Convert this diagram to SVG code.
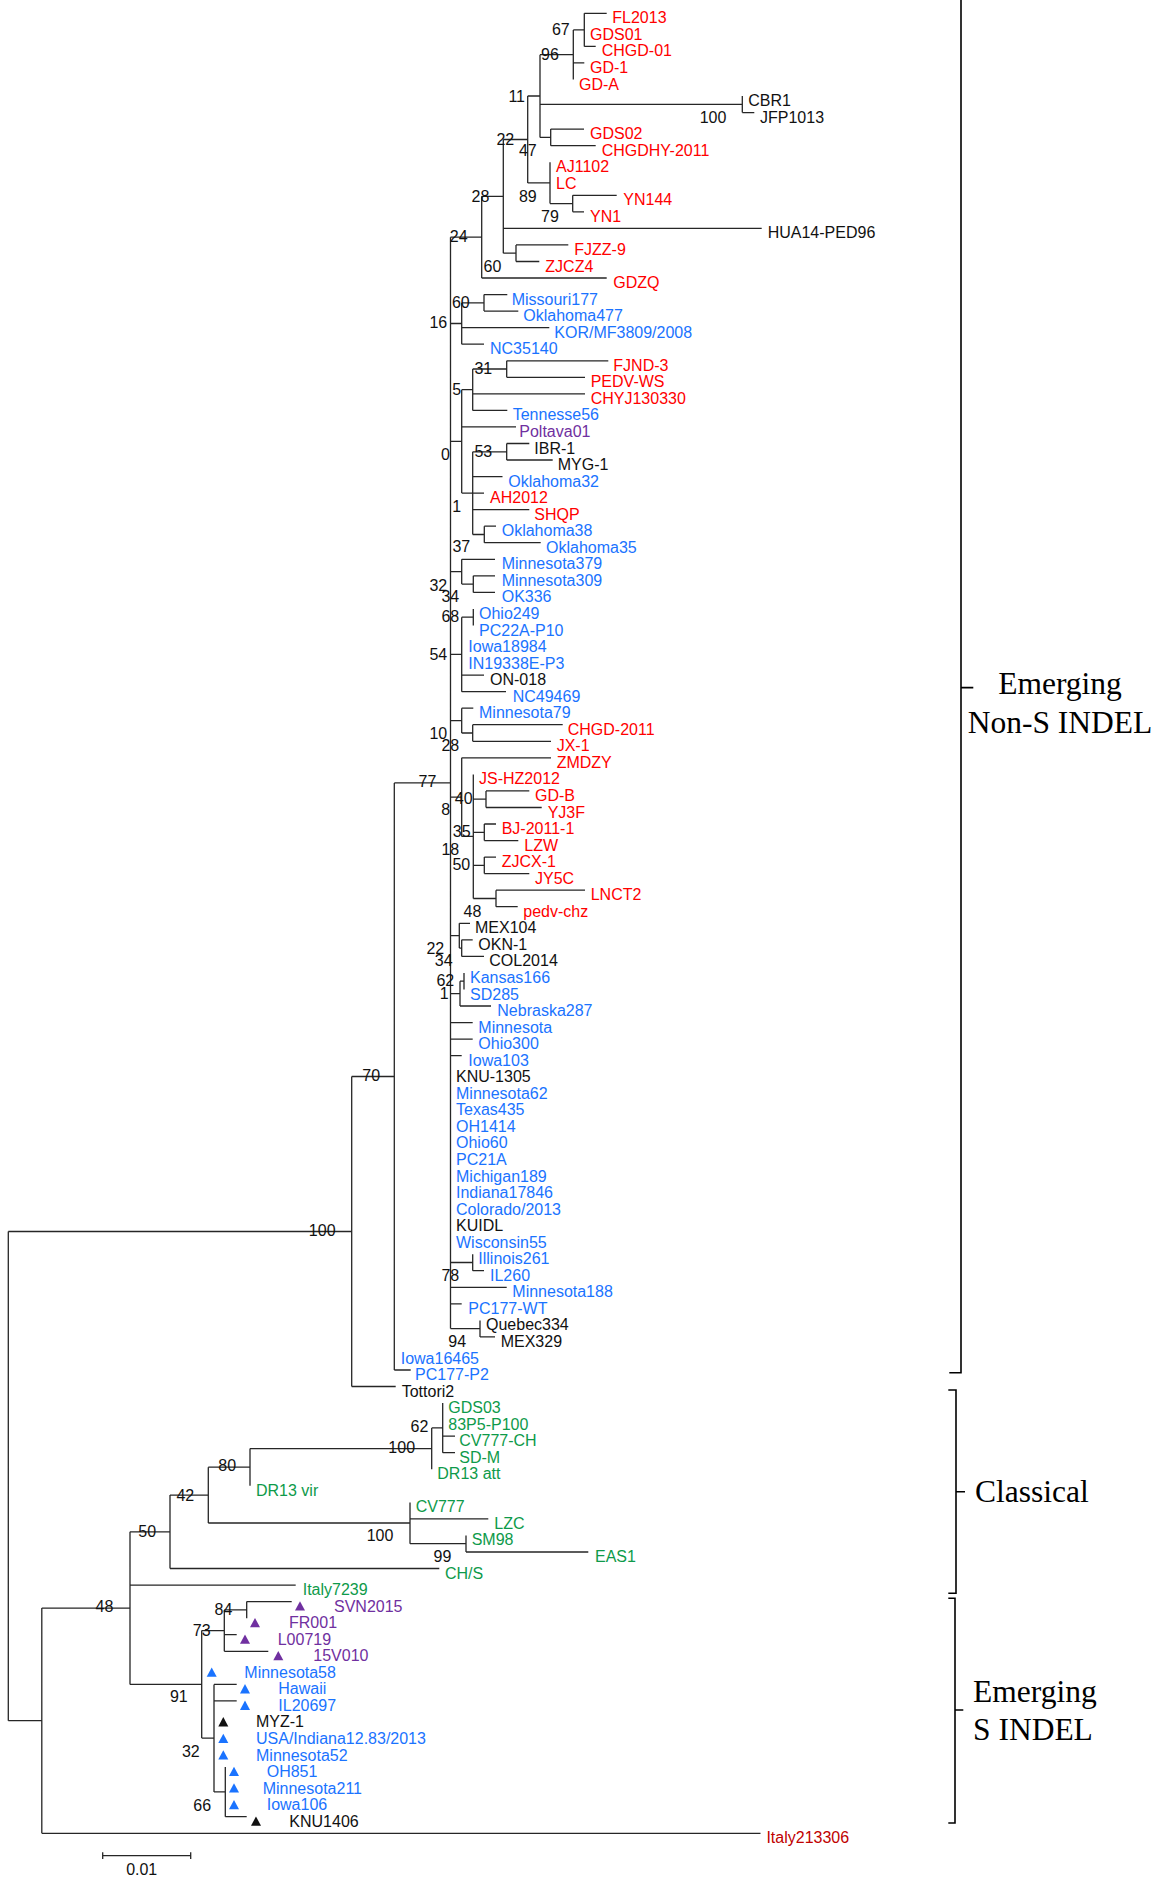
<svg xmlns="http://www.w3.org/2000/svg" xmlns:xlink="http://www.w3.org/1999/xlink" width="1158" height="1877" viewBox="0 0 1158 1877">
<style>
text{font-family:"Liberation Sans",Arial,sans-serif;font-size:16px}
.r{fill:#ff0000}.b{fill:#1a73ff}.k{fill:#111111}.g{fill:#0e9a4a}.p{fill:#7030a0}.d{fill:#c00000}
.bs text{fill:#111111;text-anchor:middle}
.cl text{font-family:"Liberation Serif","Times New Roman",serif;font-size:31.5px;fill:#000}
.br{fill:none;stroke:#262626;stroke-width:1.3}
.bk{fill:none;stroke:#000;stroke-width:1.6}
</style>
<defs><path id="tri" d="M0,-0.3 L5,9 L-5,9 Z"/></defs>
<rect width="1158" height="1877" fill="#fff"/>
<g id="connectors">
<path class="br" d="M584.3,13.3 V46.4 M584.3,13.3 H606.7 M584.3,46.4 H595.7
M573.3,29.9 V79.5 M573.3,29.9 H584.3 M573.3,62.9 H584.3
M742.3,96 V112.6 M742.3,112.6 H754.3
M550.7,129.1 V145.7 M550.7,129.1 H584 M550.7,145.7 H595.7
M540,54.7 V137.4 M540,54.7 H573.3 M540,104.3 H742.3 M540,137.4 H550.7
M572.7,195.3 V211.8 M572.7,195.3 H616.7 M572.7,211.8 H584
M550,162.2 V203.6 M550,203.6 H572.7
M527.7,96 V182.9 M527.7,96 H540 M527.7,182.9 H550
M516,244.9 V261.5 M516,244.9 H568.3 M516,261.5 H539.3
M503.3,139.5 V253.2 M503.3,139.5 H527.7 M503.3,228.4 H761.7 M503.3,253.2 H516
M481.7,196.3 V278 M481.7,196.3 H503.3 M481.7,278 H606.7
M450.5,237.2 H481.7
M484,294.6 V311.1 M484,294.6 H507.3 M484,311.1 H518.3
M461.7,302.9 V344.2 M461.7,302.9 H484 M461.7,327.7 H549.3 M461.7,344.2 H484
M450.5,323.5 H461.7
M506.7,360.8 V377.3 M506.7,360.8 H608.3 M506.7,377.3 H585
M472.7,369 V410.4 M472.7,369 H506.7 M472.7,393.8 H585 M472.7,410.4 H507.3
M506.7,443.5 V460 M506.7,443.5 H529.3 M506.7,460 H552.7
M484.3,526.2 V542.7 M484.3,526.2 H496 M484.3,542.7 H540.7
M472.7,451.8 V534.5 M472.7,451.8 H506.7 M472.7,476.6 H502.5 M472.7,493.1 H484 M472.7,509.7 H529.3 M472.7,534.5 H484.3
M461.7,389.7 V493.1 M461.7,389.7 H472.7 M461.7,426.9 H516 M461.7,493.1 H472.7
M450.5,441.4 H461.7
M473.3,575.8 V592.4 M473.3,575.8 H495 M473.3,592.4 H495
M461.7,559.3 V584.1 M461.7,559.3 H495 M461.7,584.1 H473.3
M450.5,571.7 H461.7
M473.3,608.9 V625.5
M461.7,617.2 V691.7 M461.7,617.2 H473.3 M461.7,675.1 H484 M461.7,691.7 H506
M450.5,654.4 H461.7
M472.7,724.7 V741.3 M472.7,724.7 H562.7 M472.7,741.3 H551
M461.7,708.2 V733 M461.7,708.2 H473.3 M461.7,733 H472.7
M450.5,720.6 H461.7
M486,790.9 V807.5 M486,790.9 H529.3 M486,807.5 H541.7
M484.3,824 V840.6 M484.3,824 H496 M484.3,840.6 H518.3
M484.3,857.1 V873.6 M484.3,857.1 H496 M484.3,873.6 H529.3
M496,890.2 V906.7 M496,890.2 H585 M496,906.7 H517.7
M473.3,774.4 V898.5 M473.3,799.2 H486 M473.3,832.3 H484.3 M473.3,865.4 H484.3 M473.3,898.5 H496
M461.7,757.8 V836.4 M461.7,757.8 H551 M461.7,836.4 H473.3
M450.5,797.1 H461.7
M461.7,939.8 V956.4 M461.7,939.8 H472.7 M461.7,956.4 H484
M459.3,923.3 V948.1 M459.3,923.3 H470 M459.3,948.1 H461.7
M450.5,935.7 H459.3
M464,972.9 V989.5
M460,981.2 V1006 M460,981.2 H464 M460,1006 H491
M450.5,993.6 H460
M450.5,1022.6 H472.7 M450.5,1039.1 H472.7 M450.5,1055.6 H461.7
M472.7,1254.2 V1270.7 M472.7,1270.7 H484 M450.5,1262.5 H472.7
M450.5,1287.3 H506.7 M450.5,1303.8 H461.7
M480,1320.4 V1336.9 M480,1336.9 H495 M450.5,1328.6 H480
M450.5,237.2 V1328.6
M394.3,782.9 V1370 M394.3,782.9 H450.5 M394.3,1370 H410.7
M351.7,1076.5 V1386.5 M351.7,1076.5 H394.3 M351.7,1386.5 H395.7
M8.3,1231.5 V1720.7 M8.3,1231.5 H351.7 M8.3,1720.7 H41.8
M442.7,1403.1 V1452.7 M442.7,1436.2 H455 M442.7,1452.7 H455
M431.7,1427.9 V1469.3 M431.7,1427.9 H442.7
M250,1448.6 V1485.8 M250,1448.6 H431.7
M466,1535.4 V1552 M466,1552 H588.3
M410,1502.4 V1543.7 M410,1518.9 H488.3 M410,1543.7 H466
M208.3,1467.2 V1523 M208.3,1467.2 H250 M208.3,1523 H410
M170,1495.1 V1568.5 M170,1495.1 H208.3 M170,1568.5 H439.3
M246.7,1601.6 V1618.2 M246.7,1601.6 H291.7
M224.3,1609.9 V1651.3 M224.3,1609.9 H246.7 M224.3,1634.7 H236.7 M224.3,1651.3 H268.3
M225.3,1767.1 V1816.7 M225.3,1816.7 H246.7
M214,1684.4 V1791.9 M214,1684.4 H236.7 M214,1700.9 H236.7 M214,1791.9 H225.3
M201.7,1630.6 V1738.1 M201.7,1630.6 H224.3 M201.7,1738.1 H214
M130,1531.8 V1684.4 M130,1531.8 H170 M130,1585.1 H295.7 M130,1684.4 H201.7
M41.8,1608.1 V1833.3 M41.8,1608.1 H130 M41.8,1833.3 H760.5"/>
</g>
<g id="bootstrap" class="bs">
<text x="560.8" y="35">67</text><text x="550" y="60">96</text><text x="516.7" y="101.7">11</text><text x="713" y="123">100</text>
<text x="505.3" y="144.7">22</text><text x="527.8" y="156.4">47</text><text x="527.8" y="201.7">89</text><text x="550" y="222.4">79</text>
<text x="480.5" y="201.7">28</text><text x="458.7" y="242.4">24</text><text x="492.5" y="272.4">60</text>
<text x="460.8" y="308.4">60</text><text x="438.3" y="328.4">16</text><text x="483.3" y="374">31</text><text x="456.7" y="395">5</text>
<text x="445.5" y="459.7">0</text><text x="483.3" y="457.4">53</text><text x="456.7" y="511.7">1</text><text x="461.3" y="552.4">37</text>
<text x="438.3" y="590.7">32</text><text x="450.3" y="602.4">34</text><text x="450.3" y="622.4">68</text><text x="438.3" y="660">54</text>
<text x="438.3" y="739">10</text><text x="450.3" y="750.7">28</text><text x="427.5" y="787.4">77</text><text x="463.7" y="804">40</text>
<text x="445.8" y="815">8</text><text x="461.7" y="837.4">35</text><text x="450.3" y="855">18</text><text x="461.3" y="870">50</text>
<text x="472.5" y="917.4">48</text><text x="435.3" y="954">22</text><text x="443.7" y="966.4">34</text><text x="445.3" y="985.7">62</text>
<text x="444.2" y="999">1</text><text x="450.3" y="1280.7">78</text><text x="457.2" y="1346.7">94</text>
<text x="322.2" y="1236.4">100</text><text x="371.2" y="1081.1">70</text><text x="419.5" y="1432.4">62</text><text x="401.7" y="1453.4">100</text>
<text x="227.2" y="1471.4">80</text><text x="185.3" y="1500.7">42</text><text x="380" y="1541.4">100</text><text x="442.5" y="1562.4">99</text>
<text x="147.2" y="1536.7">50</text><text x="223.5" y="1615">84</text><text x="201.7" y="1635.7">73</text><text x="104.5" y="1612.4">48</text>
<text x="178.8" y="1702.4">91</text><text x="190.8" y="1756.7">32</text><text x="202.2" y="1810.7">66</text>
</g>
<g id="n1"><text class="r" x="612.3" y="23.3">FL2013</text></g>
<g id="n2"><text class="r" x="590" y="39.9">GDS01</text></g>
<g id="n3"><text class="r" x="601.7" y="56.4">CHGD-01</text></g>
<g id="n4"><text class="r" x="590" y="72.9">GD-1</text></g>
<g id="n5"><text class="r" x="579" y="89.5">GD-A</text></g>
<g id="n6"><text class="k" x="748.3" y="106">CBR1</text></g>
<g id="n7"><text class="k" x="760" y="122.6">JFP1013</text></g>
<g id="n8"><text class="r" x="590" y="139.1">GDS02</text></g>
<g id="n9"><text class="r" x="601.7" y="155.7">CHGDHY-2011</text></g>
<g id="n10"><text class="r" x="556" y="172.2">AJ1102</text></g>
<g id="n11"><text class="r" x="556" y="188.8">LC</text></g>
<g id="n12"><text class="r" x="623.3" y="205.3">YN144</text></g>
<g id="n13"><text class="r" x="590" y="221.8">YN1</text></g>
<g id="n14"><text class="k" x="767.7" y="238.4">HUA14-PED96</text></g>
<g id="n15"><text class="r" x="574.3" y="254.9">FJZZ-9</text></g>
<g id="n16"><text class="r" x="545.3" y="271.5">ZJCZ4</text></g>
<g id="n17"><text class="r" x="613.3" y="288">GDZQ</text></g>
<g id="n18"><text class="b" x="511.7" y="304.6">Missouri177</text></g>
<g id="n19"><text class="b" x="523.3" y="321.1">Oklahoma477</text></g>
<g id="n20"><text class="b" x="554.3" y="337.7">KOR/MF3809/2008</text></g>
<g id="n21"><text class="b" x="490" y="354.2">NC35140</text></g>
<g id="n22"><text class="r" x="613.3" y="370.8">FJND-3</text></g>
<g id="n23"><text class="r" x="590.7" y="387.3">PEDV-WS</text></g>
<g id="n24"><text class="r" x="590.7" y="403.8">CHYJ130330</text></g>
<g id="n25"><text class="b" x="512.7" y="420.4">Tennesse56</text></g>
<g id="n26"><text class="p" x="519.3" y="436.9">Poltava01</text></g>
<g id="n27"><text class="k" x="534.3" y="453.5">IBR-1</text></g>
<g id="n28"><text class="k" x="557.7" y="470">MYG-1</text></g>
<g id="n29"><text class="b" x="508.3" y="486.6">Oklahoma32</text></g>
<g id="n30"><text class="r" x="490" y="503.1">AH2012</text></g>
<g id="n31"><text class="r" x="534.3" y="519.7">SHQP</text></g>
<g id="n32"><text class="b" x="501.7" y="536.2">Oklahoma38</text></g>
<g id="n33"><text class="b" x="546" y="552.7">Oklahoma35</text></g>
<g id="n34"><text class="b" x="501.7" y="569.3">Minnesota379</text></g>
<g id="n35"><text class="b" x="501.7" y="585.8">Minnesota309</text></g>
<g id="n36"><text class="b" x="501.7" y="602.4">OK336</text></g>
<g id="n37"><text class="b" x="479" y="618.9">Ohio249</text></g>
<g id="n38"><text class="b" x="479" y="635.5">PC22A-P10</text></g>
<g id="n39"><text class="b" x="468.3" y="652">Iowa18984</text></g>
<g id="n40"><text class="b" x="468.3" y="668.6">IN19338E-P3</text></g>
<g id="n41"><text class="k" x="490" y="685.1">ON-018</text></g>
<g id="n42"><text class="b" x="512.7" y="701.7">NC49469</text></g>
<g id="n43"><text class="b" x="479" y="718.2">Minnesota79</text></g>
<g id="n44"><text class="r" x="567.7" y="734.7">CHGD-2011</text></g>
<g id="n45"><text class="r" x="556.7" y="751.3">JX-1</text></g>
<g id="n46"><text class="r" x="556.7" y="767.8">ZMDZY</text></g>
<g id="n47"><text class="r" x="479" y="784.4">JS-HZ2012</text></g>
<g id="n48"><text class="r" x="535" y="800.9">GD-B</text></g>
<g id="n49"><text class="r" x="547.7" y="817.5">YJ3F</text></g>
<g id="n50"><text class="r" x="501.7" y="834">BJ-2011-1</text></g>
<g id="n51"><text class="r" x="524.3" y="850.6">LZW</text></g>
<g id="n52"><text class="r" x="501.7" y="867.1">ZJCX-1</text></g>
<g id="n53"><text class="r" x="535" y="883.6">JY5C</text></g>
<g id="n54"><text class="r" x="590.7" y="900.2">LNCT2</text></g>
<g id="n55"><text class="r" x="523.3" y="916.7">pedv-chz</text></g>
<g id="n56"><text class="k" x="475" y="933.3">MEX104</text></g>
<g id="n57"><text class="k" x="478.3" y="949.8">OKN-1</text></g>
<g id="n58"><text class="k" x="489.3" y="966.4">COL2014</text></g>
<g id="n59"><text class="b" x="470" y="982.9">Kansas166</text></g>
<g id="n60"><text class="b" x="470" y="999.5">SD285</text></g>
<g id="n61"><text class="b" x="497.3" y="1016">Nebraska287</text></g>
<g id="n62"><text class="b" x="478.3" y="1032.6">Minnesota</text></g>
<g id="n63"><text class="b" x="478.3" y="1049.1">Ohio300</text></g>
<g id="n64"><text class="b" x="468.3" y="1065.6">Iowa103</text></g>
<g id="n65"><text class="k" x="456" y="1082.2">KNU-1305</text></g>
<g id="n66"><text class="b" x="456" y="1098.7">Minnesota62</text></g>
<g id="n67"><text class="b" x="456" y="1115.3">Texas435</text></g>
<g id="n68"><text class="b" x="456" y="1131.8">OH1414</text></g>
<g id="n69"><text class="b" x="456" y="1148.4">Ohio60</text></g>
<g id="n70"><text class="b" x="456" y="1164.9">PC21A</text></g>
<g id="n71"><text class="b" x="456" y="1181.5">Michigan189</text></g>
<g id="n72"><text class="b" x="456" y="1198">Indiana17846</text></g>
<g id="n73"><text class="b" x="456" y="1214.5">Colorado/2013</text></g>
<g id="n74"><text class="k" x="456" y="1231.1">KUIDL</text></g>
<g id="n75"><text class="b" x="456" y="1247.6">Wisconsin55</text></g>
<g id="n76"><text class="b" x="478.3" y="1264.2">Illinois261</text></g>
<g id="n77"><text class="b" x="490" y="1280.7">IL260</text></g>
<g id="n78"><text class="b" x="512.3" y="1297.3">Minnesota188</text></g>
<g id="n79"><text class="b" x="468.3" y="1313.8">PC177-WT</text></g>
<g id="n80"><text class="k" x="486" y="1330.4">Quebec334</text></g>
<g id="n81"><text class="k" x="500.7" y="1346.9">MEX329</text></g>
<g id="n82"><text class="b" x="400.7" y="1363.5">Iowa16465</text></g>
<g id="n83"><text class="b" x="415" y="1380">PC177-P2</text></g>
<g id="n84"><text class="k" x="401.7" y="1396.5">Tottori2</text></g>
<g id="n85"><text class="g" x="448.3" y="1413.1">GDS03</text></g>
<g id="n86"><text class="g" x="448.3" y="1429.6">83P5-P100</text></g>
<g id="n87"><text class="g" x="459.3" y="1446.2">CV777-CH</text></g>
<g id="n88"><text class="g" x="459.3" y="1462.7">SD-M</text></g>
<g id="n89"><text class="g" x="437.3" y="1479.3">DR13 att</text></g>
<g id="n90"><text class="g" x="256" y="1495.8">DR13 vir</text></g>
<g id="n91"><text class="g" x="415.7" y="1512.4">CV777</text></g>
<g id="n92"><text class="g" x="494.3" y="1528.9">LZC</text></g>
<g id="n93"><text class="g" x="471.7" y="1545.4">SM98</text></g>
<g id="n94"><text class="g" x="595" y="1562">EAS1</text></g>
<g id="n95"><text class="g" x="445" y="1578.5">CH/S</text></g>
<g id="n96"><text class="g" x="302.7" y="1595.1">Italy7239</text></g>
<g id="n97"><use xlink:href="#tri" href="#tri" class="p" transform="translate(300,1601.6)"/><text class="p" x="334" y="1611.6">SVN2015</text></g>
<g id="n98"><use xlink:href="#tri" href="#tri" class="p" transform="translate(255,1618.2)"/><text class="p" x="289" y="1628.2">FR001</text></g>
<g id="n99"><use xlink:href="#tri" href="#tri" class="p" transform="translate(245,1634.7)"/><text class="p" x="277.7" y="1644.7">L00719</text></g>
<g id="n100"><use xlink:href="#tri" href="#tri" class="p" transform="translate(278.3,1651.3)"/><text class="p" x="313.3" y="1661.3">15V010</text></g>
<g id="n101"><use xlink:href="#tri" href="#tri" class="b" transform="translate(211.7,1667.8)"/><text class="b" x="244.3" y="1677.8">Minnesota58</text></g>
<g id="n102"><use xlink:href="#tri" href="#tri" class="b" transform="translate(245,1684.4)"/><text class="b" x="278.3" y="1694.4">Hawaii</text></g>
<g id="n103"><use xlink:href="#tri" href="#tri" class="b" transform="translate(245,1700.9)"/><text class="b" x="278.3" y="1710.9">IL20697</text></g>
<g id="n104"><use xlink:href="#tri" href="#tri" class="k" transform="translate(223.3,1717.4)"/><text class="k" x="256" y="1727.4">MYZ-1</text></g>
<g id="n105"><use xlink:href="#tri" href="#tri" class="b" transform="translate(223.3,1734)"/><text class="b" x="256" y="1744">USA/Indiana12.83/2013</text></g>
<g id="n106"><use xlink:href="#tri" href="#tri" class="b" transform="translate(223.3,1750.5)"/><text class="b" x="256" y="1760.5">Minnesota52</text></g>
<g id="n107"><use xlink:href="#tri" href="#tri" class="b" transform="translate(234,1767.1)"/><text class="b" x="266.7" y="1777.1">OH851</text></g>
<g id="n108"><use xlink:href="#tri" href="#tri" class="b" transform="translate(234,1783.6)"/><text class="b" x="262.7" y="1793.6">Minnesota211</text></g>
<g id="n109"><use xlink:href="#tri" href="#tri" class="b" transform="translate(234,1800.2)"/><text class="b" x="266.7" y="1810.2">Iowa106</text></g>
<g id="n110"><use xlink:href="#tri" href="#tri" class="k" transform="translate(256,1816.7)"/><text class="k" x="289.3" y="1826.7">KNU1406</text></g>
<g id="n111"><text class="d" x="766.4" y="1843.3">Italy213306</text></g>
<g id="scalebar"><path class="br" d="M102.7,1855.7 H190.7 M102.7,1852.3 V1859 M190.7,1852.3 V1859"/><text class="k" x="141.7" y="1875" text-anchor="middle">0.01</text></g>
<g id="clades" class="cl">
<path class="bk" d="M961,0 V1372.7 H949.3 M961,687.6 H973.3"/>
<path class="bk" d="M948.3,1390 H956 V1593.3 H948.3 M956,1491.7 H965"/>
<path class="bk" d="M948.3,1598.3 H955 V1823 H948.3 M955,1710 H963.3"/>
<text x="1060" y="694" text-anchor="middle">Emerging</text>
<text x="1060" y="732.5" text-anchor="middle">Non-S INDEL</text>
<text x="975" y="1501.7">Classical</text>
<text x="973" y="1701.7">Emerging</text>
<text x="973" y="1740">S INDEL</text>
</g>
</svg>
